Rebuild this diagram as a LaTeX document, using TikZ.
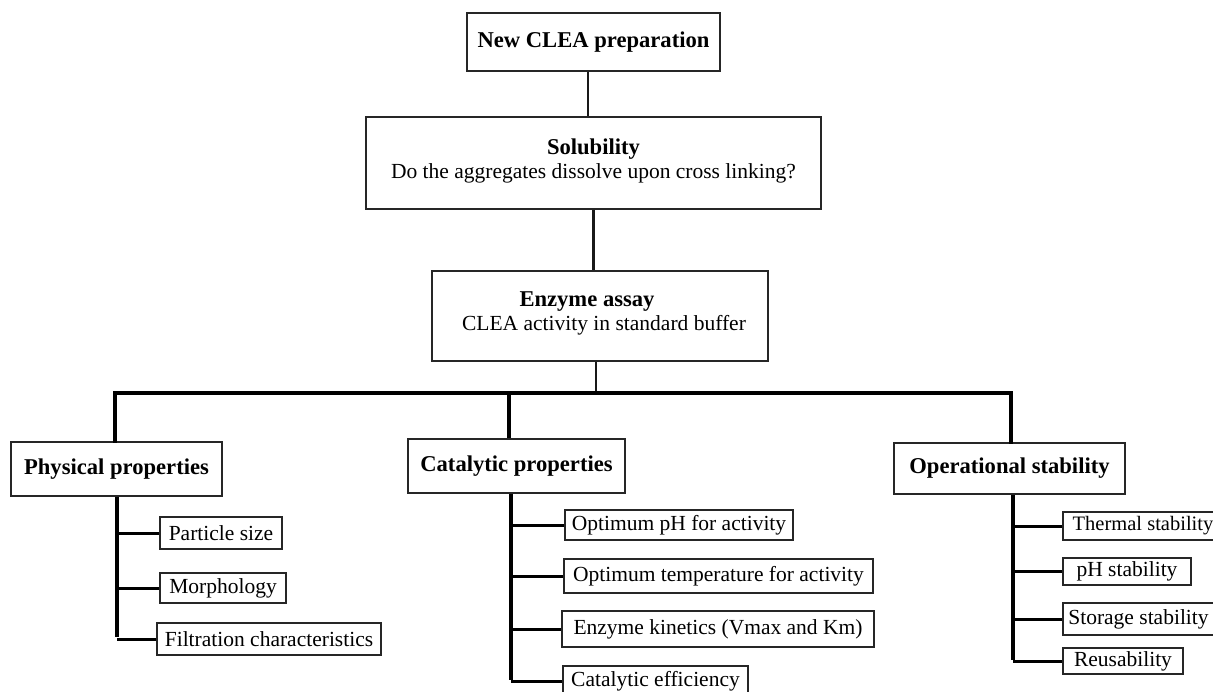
\documentclass[tikz,border=0pt]{standalone}
\usepackage{fontspec}
\setmainfont{Liberation Serif}
\begin{document}
\begin{tikzpicture}[x=1pt,y=-1pt,
  box/.style={draw=black!85, line width=1.6pt, fill=white, inner sep=0pt, font=\fontsize{21.5}{24}\selectfont},
  hdbox/.style={box, font=\fontsize{22.6}{25}\selectfont\bfseries},
  txt/.style={inner sep=0pt, font=\fontsize{21.5}{24}\selectfont},
  hd/.style={inner sep=0pt, font=\fontsize{22.6}{25}\selectfont\bfseries},
  thinline/.style={line width=2.2pt, black!90},
  busline/.style={line width=4.2pt, black},
  midline/.style={line width=3.5pt, black},
  stubline/.style={line width=3pt, black}]
\useasboundingbox (0,0) rectangle (1213,692);
\fill[white] (0,0) rectangle (1213,692);

% top chain
\node[hdbox, minimum width=253pt, minimum height=58pt] (new) at (593.5,42) {New CLEA preparation};
\node[box, minimum width=455pt, minimum height=92pt] (sol) at (593.5,163) {};
\node[hd] (solt) at (593.5,149) {Solubility};
\node[txt] (sold) at (593.5,173) {Do the aggregates dissolve upon cross linking?};
\node[box, minimum width=336pt, minimum height=90pt] (enz) at (600,316) {};
\node[hd] (enzt) at (587,302) {Enzyme assay};
\node[txt] (enzd) at (604,325) {CLEA activity in standard buffer};

\draw[thinline] ([xshift=-5.5pt]new.south) -- ([xshift=-5.5pt]new.south |- sol.north);
\draw[thinline] (sol.south) -- (sol.south |- enz.north);

% bus
\coordinate (bl) at (115,393);
\coordinate (bm) at (509,393);
\coordinate (bc) at (596,393);
\coordinate (br) at (1011,393);
\draw[thinline] ([xshift=-4pt]enz.south) -- (bc);

% categories
\node[hdbox, minimum width=211pt, minimum height=54pt] (phys) at (116.5,469) {Physical properties};
\node[hdbox, minimum width=217pt, minimum height=54pt] (cat) at (516.5,466) {Catalytic properties};
\node[hdbox, minimum width=231pt, minimum height=51pt] (op) at (1009.5,468.5) {Operational stability};

\draw[busline, line cap=rect] (phys.north -| bl) -- (bl) -- (br) -- (op.north -| br);
\draw[midline] (cat.north -| bm) -- (bm);

% physical leaves
\coordinate (pv) at (117,0);
\node[box, minimum width=122pt, minimum height=32pt] (ps) at (221,533) {Particle size};
\node[box, minimum width=126pt, minimum height=30pt] (mo) at (223,588) {Morphology};
\node[box, minimum width=224pt, minimum height=32pt] (fc) at (269,639) {Filtration characteristics};
\draw[busline] (phys.south -| pv) -- ([yshift=2pt]fc.west -| pv);
\draw[stubline] (ps.west -| pv) -- (ps.west);
\draw[stubline] (mo.west -| pv) -- (mo.west);
\draw[stubline] (fc.west -| pv) -- (fc.west);

% catalytic leaves
\coordinate (cv) at (511,0);
\node[box, minimum width=228pt, minimum height=30pt] (oph) at (679,525) {Optimum pH for activity};
\node[box, minimum width=309pt, minimum height=34pt] (ot) at (718.5,576) {Optimum temperature for activity};
\node[box, minimum width=312pt, minimum height=36pt] (ek) at (718,629) {Enzyme kinetics (Vmax and Km)};
\node[box, minimum width=185pt, minimum height=30pt] (ce) at (655.5,681) {Catalytic efficiency};
\draw[midline] (cat.south -| cv) -- ([yshift=1.5pt]ce.west -| cv);
\draw[stubline] (oph.west -| cv) -- (oph.west);
\draw[stubline] (ot.west -| cv) -- (ot.west);
\draw[stubline] (ek.west -| cv) -- (ek.west);
\draw[stubline] (ce.west -| cv) -- (ce.west);

% operational leaves
\coordinate (ov) at (1013,0);
\node[box, minimum width=160pt, minimum height=28pt, font=\fontsize{20.5}{23}\selectfont] (ts) at (1143,526) {Thermal stability};
\node[box, minimum width=128pt, minimum height=27pt] (phs) at (1127,571.5) {pH stability};
\node[box, minimum width=151pt, minimum height=32pt] (ss) at (1138.5,619) {Storage stability};
\node[box, minimum width=120pt, minimum height=26pt] (re) at (1123,661) {Reusability};
\draw[midline] (op.south -| ov) -- ([yshift=1.5pt]re.west -| ov);
\draw[stubline] (ts.west -| ov) -- (ts.west);
\draw[stubline] (phs.west -| ov) -- (phs.west);
\draw[stubline] (ss.west -| ov) -- (ss.west);
\draw[stubline] (re.west -| ov) -- (re.west);
\end{tikzpicture}
\end{document}
